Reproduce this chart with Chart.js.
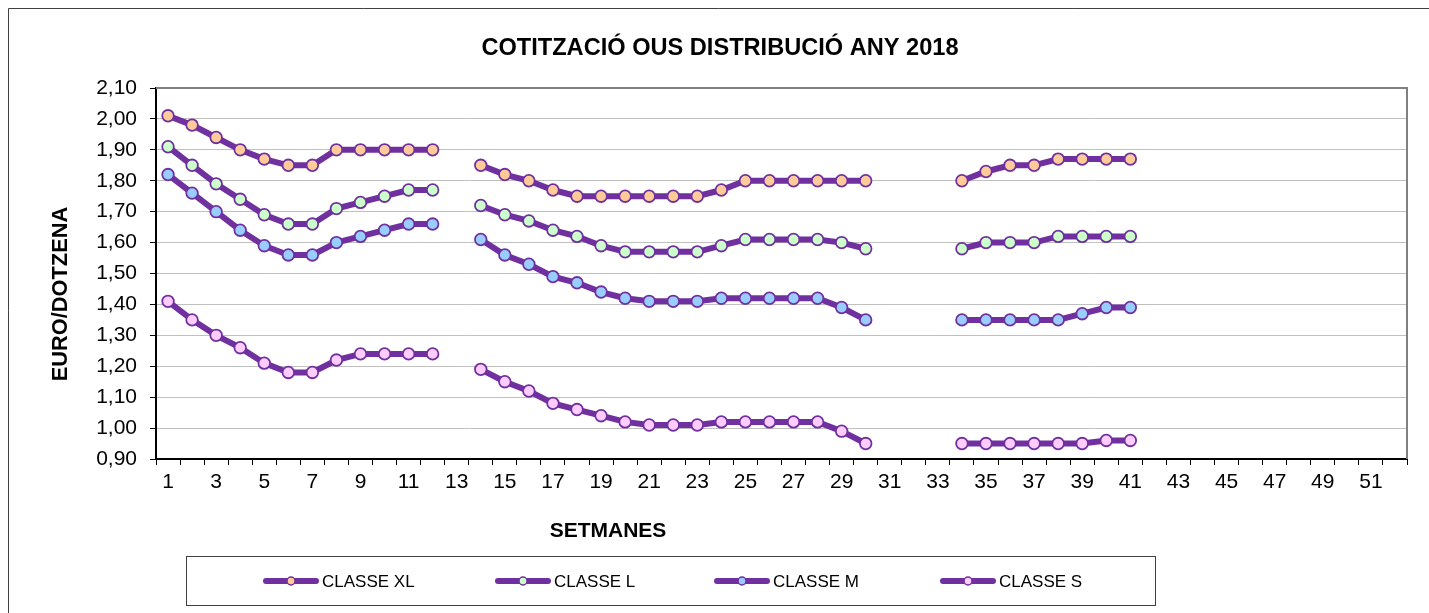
<!DOCTYPE html>
<html><head><meta charset="utf-8">
<script src="https://cdn.jsdelivr.net/npm/chart.js@4/dist/chart.umd.min.js"></script>
<style>html,body{margin:0;padding:0;background:#fff;overflow:hidden}canvas{display:block}</style>
</head><body>
<canvas id="c" width="1429" height="613"></canvas>
<script>
const weeks = ['1','2','3','4','5','6','7','8','9','10','11','12','13','14','15','16','17','18','19','20','21','22','23','24','25','26','27','28','29','30','31','32','33','34','35','36','37','38','39','40','41','42','43','44','45','46','47','48','49','50','51','52'];

const classeXL = [2.01,1.98,1.94,1.90,1.87,1.85,1.85,1.90,1.90,1.90,1.90,1.90,null,
  1.85,1.82,1.80,1.77,1.75,1.75,1.75,1.75,1.75,1.75,1.77,1.80,1.80,1.80,1.80,1.80,1.80,null,null,null,
  1.80,1.83,1.85,1.85,1.87,1.87,1.87,1.87,null,null,null,null,null,null,null,null,null,null,null];
const classeL = [1.91,1.85,1.79,1.74,1.69,1.66,1.66,1.71,1.73,1.75,1.77,1.77,null,
  1.72,1.69,1.67,1.64,1.62,1.59,1.57,1.57,1.57,1.57,1.59,1.61,1.61,1.61,1.61,1.60,1.58,null,null,null,
  1.58,1.60,1.60,1.60,1.62,1.62,1.62,1.62,null,null,null,null,null,null,null,null,null,null,null];
const classeM = [1.82,1.76,1.70,1.64,1.59,1.56,1.56,1.60,1.62,1.64,1.66,1.66,null,
  1.61,1.56,1.53,1.49,1.47,1.44,1.42,1.41,1.41,1.41,1.42,1.42,1.42,1.42,1.42,1.39,1.35,null,null,null,
  1.35,1.35,1.35,1.35,1.35,1.37,1.39,1.39,null,null,null,null,null,null,null,null,null,null,null];
const classeS = [1.41,1.35,1.30,1.26,1.21,1.18,1.18,1.22,1.24,1.24,1.24,1.24,null,
  1.19,1.15,1.12,1.08,1.06,1.04,1.02,1.01,1.01,1.01,1.02,1.02,1.02,1.02,1.02,0.99,0.95,null,null,null,
  0.95,0.95,0.95,0.95,0.95,0.95,0.96,0.96,null,null,null,null,null,null,null,null,null,null,null];

const seriesNames = ['CLASSE XL','CLASSE L','CLASSE M','CLASSE S'];
const yTickLabels = ['0,90','1,00','1,10','1,20','1,30','1,40','1,50','1,60','1,70','1,80','1,90','2,00','2,10'];

const chartTitle = 'COTITZACIÓ OUS DISTRIBUCIÓ ANY 2018';
const xTitle = 'SETMANES';
const yTitle = 'EURO/DOTZENA';

const PURPLE = '#7030A0';
const fills = ['#FFCC99','#CCFFCC','#99CCFF','#FFCCFF'];
const FONT = "Arial, 'Liberation Sans', sans-serif";

function ds(label, data, fill) {
  return {
    label, data,
    borderColor: PURPLE, borderWidth: 6,
    backgroundColor: fill,
    pointBackgroundColor: fill, pointBorderColor: PURPLE,
    pointBorderWidth: 1.8, pointRadius: 5.8, pointHoverRadius: 5.8,
    spanGaps: false, tension: 0, fill: false
  };
}

const decor = {
  id: 'decor',
  beforeDraw(chart) {
    const ctx = chart.ctx;
    ctx.save();
    ctx.fillStyle = '#fff';
    ctx.fillRect(0, 0, chart.width, chart.height);
    ctx.strokeStyle = '#404040';
    ctx.lineWidth = 1;
    ctx.beginPath();
    ctx.moveTo(8.5, chart.height);
    ctx.lineTo(8.5, 8.5);
    ctx.lineTo(chart.width, 8.5);
    ctx.stroke();
    ctx.restore();
  },
  beforeDatasetsDraw(chart) {
    const {ctx, chartArea: a} = chart;
    ctx.save();
    ctx.strokeStyle = '#808080';
    ctx.lineWidth = 2;
    ctx.beginPath();
    ctx.moveTo(a.left, a.top);
    ctx.lineTo(a.right, a.top);
    ctx.lineTo(a.right, a.bottom);
    ctx.stroke();
    ctx.restore();
  },
  afterDraw(chart) {
    const ctx = chart.ctx;
    ctx.save();
    ctx.fillStyle = '#000';
    ctx.textAlign = 'center';
    ctx.textBaseline = 'middle';
    ctx.font = 'bold 23.6px ' + FONT;
    ctx.fillText(chartTitle, 720, 48);
    ctx.font = 'bold 21px ' + FONT;
    ctx.fillText(xTitle, 608, 531);
    ctx.save();
    ctx.font = 'bold 21.8px ' + FONT;
    ctx.translate(61, 294);
    ctx.rotate(-Math.PI / 2);
    ctx.fillText(yTitle, 0, 0);
    ctx.restore();

    // legend
    ctx.strokeStyle = '#404040';
    ctx.lineWidth = 1;
    ctx.strokeRect(186.5, 556.5, 969, 49);
    const starts = [263, 495, 714, 940];
    const cy = 581;
    chart.data.datasets.forEach((d, i) => {
      const sx = starts[i];
      ctx.strokeStyle = d.borderColor;
      ctx.lineWidth = 6;
      ctx.lineCap = 'round';
      ctx.beginPath();
      ctx.moveTo(sx + 3, cy);
      ctx.lineTo(sx + 53, cy);
      ctx.stroke();
      ctx.beginPath();
      ctx.arc(sx + 28, cy, 4, 0, Math.PI * 2);
      ctx.fillStyle = d.pointBackgroundColor;
      ctx.fill();
      ctx.lineWidth = 1.5;
      ctx.strokeStyle = d.pointBorderColor;
      ctx.stroke();
      ctx.fillStyle = '#000';
      ctx.font = '17px ' + FONT;
      ctx.textAlign = 'left';
      ctx.fillText(d.label, sx + 59, cy + 1);
    });
    ctx.restore();
  }
};

new Chart(document.getElementById('c'), {
  type: 'line',
  data: {
    labels: weeks,
    datasets: [
      ds(seriesNames[0], classeXL, fills[0]),
      ds(seriesNames[1], classeL, fills[1]),
      ds(seriesNames[2], classeM, fills[2]),
      ds(seriesNames[3], classeS, fills[3])
    ]
  },
  options: {
    responsive: false,
    animation: false,
    devicePixelRatio: 1,
    layout: {padding: {left: 0, top: 88, right: 22, bottom: 0}},
    plugins: {legend: {display: false}, title: {display: false}, tooltip: {enabled: false}},
    events: [],
    scales: {
      x: {
        type: 'category',
        offset: true,
        grid: {display: true, drawOnChartArea: false, drawTicks: true, offset: true, tickLength: 6, tickColor: '#000', lineWidth: 1},
        border: {display: true, color: '#000', width: 2},
        ticks: {
          autoSkip: false, maxRotation: 0, minRotation: 0, padding: 5,
          color: '#000', font: {family: FONT, size: 21},
          callback: function(v, i) { return i % 2 === 0 ? weeks[i] : ''; }
        },
        afterFit(scale) { scale.height = 154; }
      },
      y: {
        min: 0.9, max: 2.1,
        grid: {color: '#c0c0c0', lineWidth: 1, tickLength: 6, tickColor: '#000', drawTicks: true},
        border: {display: true, color: '#000', width: 2},
        ticks: {
          stepSize: 0.1, padding: 13, color: '#000', font: {family: FONT, size: 21},
          callback: function(v, i) { return yTickLabels[i]; }
        },
        afterFit(scale) { scale.width = 156; }
      }
    }
  },
  plugins: [decor]
});
</script>
</body></html>
